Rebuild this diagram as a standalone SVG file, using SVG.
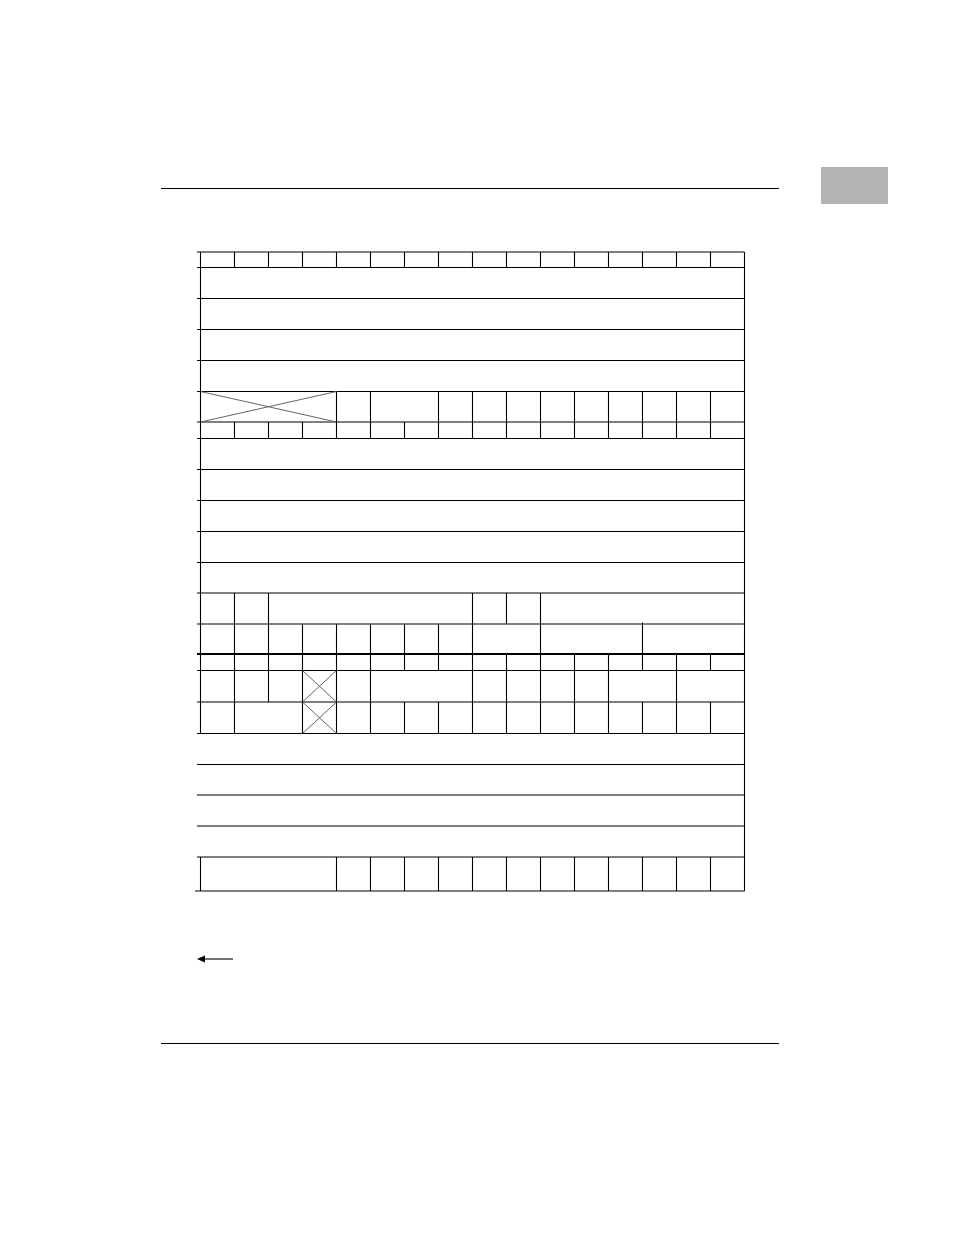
<svg xmlns="http://www.w3.org/2000/svg" width="954" height="1235" viewBox="0 0 954 1235">
<style>
.ln{stroke:#000;stroke-width:1.1;fill:none}
.thick{stroke:#000;stroke-width:2.2;fill:none}
.x{stroke:#666;stroke-width:1;fill:none}
</style>
<rect width="954" height="1235" fill="#fff"/>
<g id="page">
<line class="ln" x1="161" y1="188.5" x2="779" y2="188.5"/>
<line class="ln" x1="161" y1="1043.5" x2="779" y2="1043.5"/>
<rect id="tab" x="821" y="167" width="67" height="37" fill="#b3b3b3"/>
</g>
<g id="frame">
<line class="ln" x1="200.5" y1="252" x2="200.5" y2="733.5"/>
<line class="ln" x1="200.5" y1="857" x2="200.5" y2="891"/>
<line class="ln" x1="744.5" y1="252" x2="744.5" y2="891"/>
</g>
<g id="hlines">
<line class="ln" x1="197" y1="252" x2="744.5" y2="252"/>
<line class="ln" x1="197" y1="267.5" x2="744.5" y2="267.5"/>
<line class="ln" x1="197" y1="298.5" x2="744.5" y2="298.5"/>
<line class="ln" x1="197" y1="329.5" x2="744.5" y2="329.5"/>
<line class="ln" x1="197" y1="360.5" x2="744.5" y2="360.5"/>
<line class="ln" x1="197" y1="391.5" x2="744.5" y2="391.5"/>
<line class="ln" x1="197" y1="422" x2="744.5" y2="422"/>
<line class="ln" x1="197" y1="438.5" x2="744.5" y2="438.5"/>
<line class="ln" x1="197" y1="469.5" x2="744.5" y2="469.5"/>
<line class="ln" x1="197" y1="500.5" x2="744.5" y2="500.5"/>
<line class="ln" x1="197" y1="531.5" x2="744.5" y2="531.5"/>
<line class="ln" x1="197" y1="562.5" x2="744.5" y2="562.5"/>
<line class="ln" x1="197" y1="593" x2="744.5" y2="593"/>
<line class="ln" x1="197" y1="624" x2="744.5" y2="624"/>
<line class="thick" x1="197" y1="654" x2="745" y2="654"/>
<line class="ln" x1="197" y1="670.5" x2="744.5" y2="670.5"/>
<line class="ln" x1="197" y1="702" x2="744.5" y2="702"/>
<line class="ln" x1="197" y1="733.5" x2="744.5" y2="733.5"/>
<line class="ln" x1="197" y1="764.5" x2="744.5" y2="764.5"/>
<line class="ln" x1="197" y1="795" x2="744.5" y2="795"/>
<line class="ln" x1="197" y1="826" x2="744.5" y2="826"/>
<line class="ln" x1="197" y1="857" x2="744.5" y2="857"/>
<line class="ln" x1="195" y1="891" x2="744.5" y2="891"/>
</g>
<g id="row-bits-1">
<path class="ln" d="M234.5 252V267.5M268.5 252V267.5M302.5 252V267.5M336.5 252V267.5M370.5 252V267.5M404.5 252V267.5M438.5 252V267.5M472.5 252V267.5M506.5 252V267.5M540.5 252V267.5M574.5 252V267.5M608.5 252V267.5M642.5 252V267.5M676.5 252V267.5M710.5 252V267.5"/>
</g>
<g id="row-fields-1">
<path class="ln" d="M336.5 391.5V422M370.5 391.5V422M438.5 391.5V422M472.5 391.5V422M506.5 391.5V422M540.5 391.5V422M574.5 391.5V422M608.5 391.5V422M642.5 391.5V422M676.5 391.5V422M710.5 391.5V422"/>
<path class="x" d="M200.5 391.5L336.5 422M200.5 422L336.5 391.5"/>
</g>
<g id="row-bits-2">
<path class="ln" d="M234.5 422V438.5M268.5 422V438.5M302.5 422V438.5M336.5 422V438.5M370.5 422V438.5M404.5 422V438.5M438.5 422V438.5M472.5 422V438.5M506.5 422V438.5M540.5 422V438.5M574.5 422V438.5M608.5 422V438.5M642.5 422V438.5M676.5 422V438.5M710.5 422V438.5"/>
</g>
<g id="row-fields-2">
<path class="ln" d="M234.5 593V624M268.5 593V624M472.5 593V624M506.5 593V624M540.5 593V624"/>
</g>
<g id="row-fields-3">
<path class="ln" d="M234.5 624V654M268.5 624V654M302.5 624V654M336.5 624V654M370.5 624V654M404.5 624V654M438.5 624V654M472.5 624V654M540.5 624V654M642.5 622.5V654"/>
</g>
<g id="row-bits-3">
<path class="ln" d="M234.5 654V670.5M268.5 654V670.5M302.5 654V670.5M336.5 654V670.5M370.5 654V670.5M404.5 654V670.5M438.5 654V670.5M472.5 654V670.5M506.5 654V670.5M540.5 654V670.5M574.5 654V670.5M608.5 654V670.5M642.5 654V670.5M676.5 654V670.5M710.5 654V670.5"/>
</g>
<g id="row-fields-4">
<path class="ln" d="M234.5 670.5V702M268.5 670.5V702M302.5 670.5V702M336.5 670.5V702M370.5 670.5V702M472.5 670.5V702M506.5 670.5V702M540.5 670.5V702M574.5 670.5V702M608.5 670.5V702M676.5 670.5V702"/>
<path class="x" d="M302.5 670.5L336.5 702M302.5 702L336.5 670.5"/>
</g>
<g id="row-fields-5">
<path class="ln" d="M234.5 702V733.5M302.5 702V733.5M336.5 702V733.5M370.5 702V733.5M404.5 702V733.5M438.5 702V733.5M472.5 702V733.5M506.5 702V733.5M540.5 702V733.5M574.5 702V733.5M608.5 702V733.5M642.5 702V733.5M676.5 702V733.5M710.5 702V733.5"/>
<path class="x" d="M302.5 702L336.5 733.5M302.5 733.5L336.5 702"/>
</g>
<g id="row-fields-6">
<path class="ln" d="M336.5 857V891M370.5 857V891M404.5 857V891M438.5 857V891M472.5 857V891M506.5 857V891M540.5 857V891M574.5 857V891M608.5 857V891M642.5 857V891M676.5 857V891M710.5 857V891"/>
</g>
<g id="connectors">
<line class="ln" x1="204" y1="959" x2="233" y2="959"/>
<polygon points="197,959 205,955.5 205,962.5" fill="#000"/>
</g>
</svg>
